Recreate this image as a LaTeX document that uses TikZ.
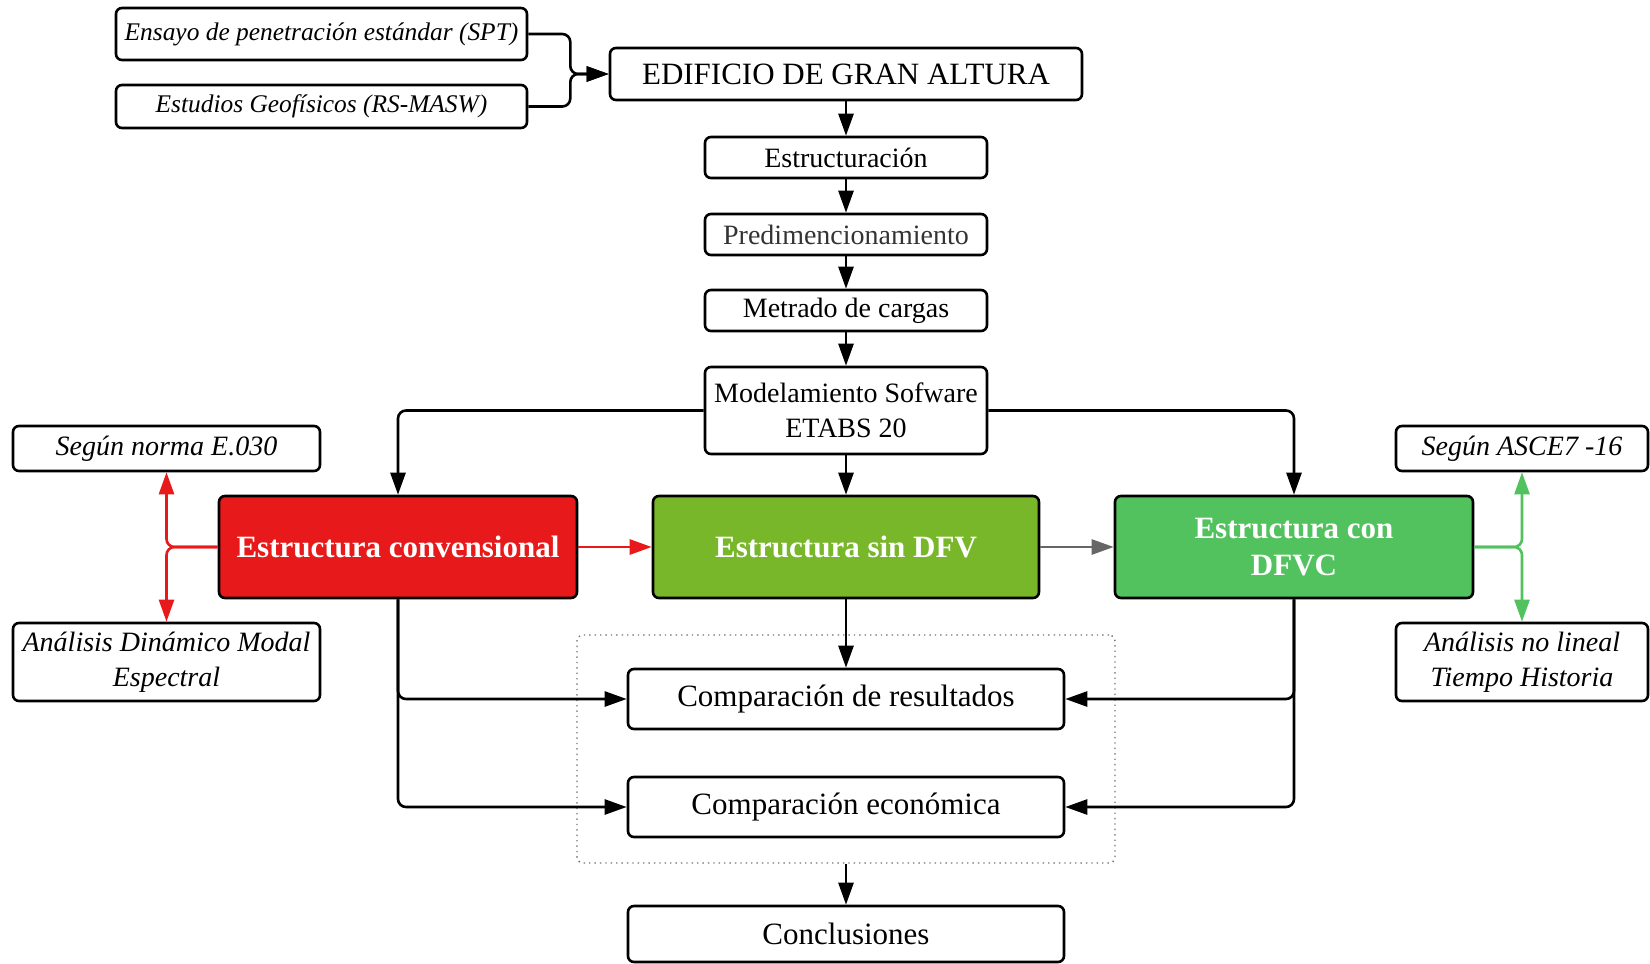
\documentclass[tikz,border=0pt]{standalone}
\usepackage{fontspec}
\setmainfont{Liberation Serif}
\usetikzlibrary{arrows.meta}
\definecolor{rojo}{HTML}{E8191A}
\definecolor{oliva}{HTML}{78B72A}
\definecolor{verde}{HTML}{52C25E}
\newcommand{\letragrande}{\fontsize{15.5}{18.5}\selectfont}
\newcommand{\letramedia}{\fontsize{14}{17.5}\selectfont}
\newcommand{\letrachica}{\fontsize{12.7}{15}\selectfont}
\tikzset{
	caja/.style={draw, line width=1.3pt, rounded corners=3pt, align=center, inner sep=0pt},
	cajait/.style={caja, font=\letramedia\itshape},
	bloque/.style={caja, text=white, font=\letragrande\bfseries},
	flecha/.style={line width=1.3pt, rounded corners=4pt, -{Triangle[length=11pt,width=7.5pt]}},
}

\begin{document}
\begin{tikzpicture}[x=0.5pt, y=-0.5pt]
		%%%%% START %%%%%
		\useasboundingbox (0, 0) rectangle (1650, 964);
		
		\node[caja, font=\letrachica\itshape, minimum width=205.5pt, minimum height=26pt] (spt) at (321.5, 34) {Ensayo de penetración estándar (SPT)};
		\node[caja, font=\letrachica\itshape, minimum width=205.5pt, minimum height=21.5pt] (masw) at (321.5, 106.5) {Estudios Geofísicos (RS-MASW)};
		\node[caja, font=\letragrande, minimum width=236pt, minimum height=26pt] (edif) at (846, 74) {EDIFICIO DE GRAN ALTURA};
		
		\node[caja, font=\letramedia, minimum width=141pt, minimum height=20.5pt] (estr) at (846, 157.5) {Estructuración};
		\node[caja, font=\letramedia, text=black!80, minimum width=141pt, minimum height=20.5pt] (pred) at (846, 234.5) {Predimencionamiento};
		\node[caja, font=\letramedia, minimum width=141pt, minimum height=20.5pt] (metr) at (846, 310.5) {Metrado de cargas};
		\node[caja, font=\letramedia, minimum width=141pt, minimum height=43.5pt] (model) at (846, 410.5) {Modelamiento Sofware\\ETABS 20};
		
		\node[bloque, fill=rojo, minimum width=179pt, minimum height=51pt] (conv) at (398, 547) {Estructura convensional};
		\node[bloque, fill=oliva, minimum width=193pt, minimum height=51pt] (sindfv) at (846, 547) {Estructura sin DFV};
		\node[bloque, fill=verde, minimum width=179pt, minimum height=51pt] (dfvc) at (1294, 547) {Estructura con\\DFVC};
		
		\node[cajait, minimum width=153.5pt, minimum height=22.5pt] (e030) at (166.5, 448.5) {Según norma E.030};
		\node[cajait, minimum width=153.5pt, minimum height=39pt] (adm) at (166.5, 662) {Análisis Dinámico Modal\\Espectral};
		\node[cajait, minimum width=126pt, minimum height=22.5pt] (asce) at (1522, 448.5) {Según ASCE7 -16};
		\node[cajait, minimum width=126pt, minimum height=39pt] (anl) at (1522, 662) {Análisis no lineal\\Tiempo Historia};
		
		\node[draw=black!55, dotted, line width=0.7pt, rounded corners=3pt, minimum width=269pt, minimum height=114pt] (marco) at (846, 749) {};
		\node[caja, font=\letragrande, minimum width=218pt, minimum height=30pt] (compres) at (846, 699) {Comparación de resultados};
		\node[caja, font=\letragrande, minimum width=218pt, minimum height=30pt] (compeco) at (846, 807) {Comparación económica};
		\node[caja, font=\letragrande, minimum width=218pt, minimum height=28pt] (concl) at (846, 934) {Conclusiones};
		
		% ensayos
		\draw[flecha] (spt.east) -- ++(42, 0) |- (edif.west);
		\draw[flecha] (masw.east) -- ++(42, 0) |- (edif.west);
		
		% cadena central
		\draw[flecha] (edif) -- (estr);
		\draw[flecha] (estr) -- (pred);
		\draw[flecha] (pred) -- (metr);
		\draw[flecha] (metr) -- (model);
		\draw[flecha] (model) -- (sindfv);
		\draw[flecha] (model.west) -| (conv.north);
		\draw[flecha] (model.east) -| (dfvc.north);
		
		\draw[flecha, color=rojo] (conv) -- (sindfv);
		\draw[flecha, color=black!60] (sindfv) -- (dfvc);
		
		\draw[flecha, color=rojo] (conv.west) -| (e030.south);
		\draw[flecha, color=rojo] (conv.west) -| (adm.north);
		\draw[flecha, color=verde] (dfvc.east) -| (asce.south);
		\draw[flecha, color=verde] (dfvc.east) -| (anl.north);
		
		% comparaciones
		\draw[flecha] (conv.south) |- (compres.west);
		\draw[flecha] (conv.south) |- (compeco.west);
		\draw[flecha] (dfvc.south) |- (compres.east);
		\draw[flecha] (dfvc.south) |- (compeco.east);
		\draw[flecha] (sindfv) -- (compres);
		\draw[flecha] (marco) -- (concl);
		
		%%%%% END %%%%%
	\end{tikzpicture}
\end{document}
